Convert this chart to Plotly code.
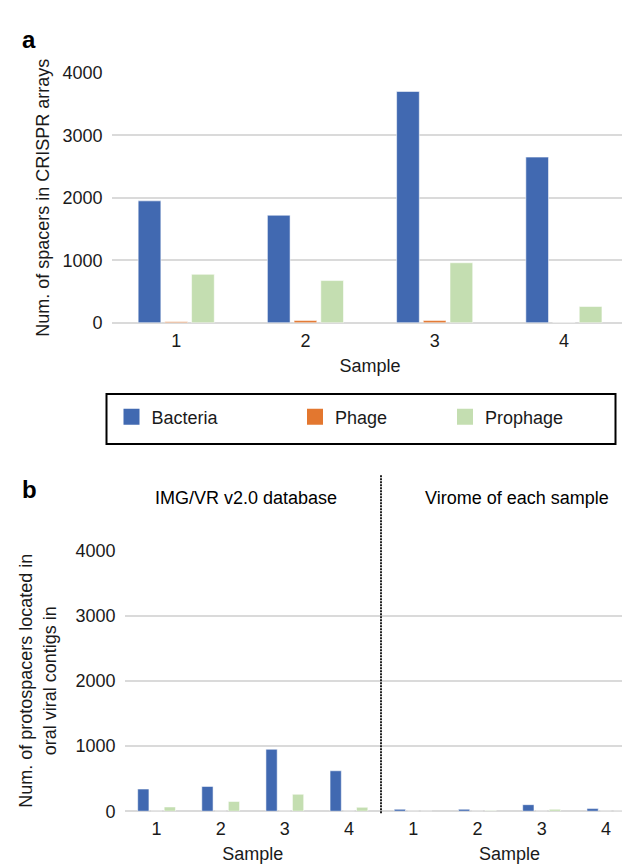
import plotly.graph_objects as go

W, H = 630, 864
def px(x): return x / W
def py(y): return 1 - y / H

samples = ["1", "2", "3", "4"]
series = ["Bacteria", "Phage", "Prophage"]
colors = {"Bacteria": "#4169B1", "Phage": "#E3772F", "Prophage": "#C4DEB1"}

# Panel a: spacers in CRISPR arrays
spacers_bacteria = [1950, 1720, 3700, 2650]
spacers_phage = [15, 35, 35, 0]
spacers_prophage = [775, 675, 960, 260]

# Panel b: protospacers in IMG/VR v2.0 database
img_bacteria = [340, 380, 950, 620]
img_phage = [0, 0, 0, 0]
img_prophage = [65, 150, 260, 60]

# Panel b: protospacers in virome of each sample
vir_bacteria = [30, 30, 100, 40]
vir_phage = [0, 0, 0, 0]
vir_prophage = [0, 10, 30, 0]

yticks = [0, 1000, 2000, 3000, 4000]

FONT = "Liberation Sans, Arial, Helvetica, sans-serif"
TXT = "#1a1a1a"
GRID = "#DADADA"

fig = go.Figure()

def add_group(vals, xa, ya):
    for name, v in zip(series, vals):
        fig.add_trace(go.Bar(
            x=samples, y=v, name=name, xaxis=xa, yaxis=ya,
            marker=dict(color=colors[name], line=dict(color="rgba(255,255,255,0.55)", width=1)),
            showlegend=False, hoverinfo="x+y+name"))

add_group([spacers_bacteria, spacers_phage, spacers_prophage], "x", "y")
add_group([img_bacteria, img_phage, img_prophage], "x2", "y2")
add_group([vir_bacteria, vir_phage, vir_prophage], "x3", "y2")

# legend entries (one legend per entry for exact placement)
legend_names = ["legend", "legend2", "legend3"]
legend_swatch_centers = [123.5, 307, 457]
for name, lg in zip(series, legend_names):
    fig.add_trace(go.Scatter(
        x=[None], y=[None], mode="markers", name=name, legend=lg,
        marker=dict(symbol="square", size=18, color=colors[name]),
        xaxis="x", yaxis="y", showlegend=True))

axis_font = dict(family=FONT, size=18, color=TXT)

def xax(domain, anchor):
    return dict(domain=domain, anchor=anchor, type="category", range=[-0.5, 3.5],
                showgrid=False, showline=False, zeroline=False, ticks="",
                ticklabelstandoff=5, tickfont=axis_font,
                title=dict(text="Sample", font=axis_font, standoff=9))

def yax(domain, anchor, title, standoff):
    return dict(domain=domain, anchor=anchor, range=[0, 4000], tickvals=yticks,
                showgrid=True, gridcolor=GRID, gridwidth=1.5,
                zeroline=True, zerolinecolor=GRID, zerolinewidth=1.5,
                showline=False, ticks="", ticklabelstandoff=8, tickfont=axis_font,
                title=dict(text=title, font=axis_font, standoff=standoff))

layout = dict(
    width=W, height=H, margin=dict(l=0, r=0, t=0, b=0),
    paper_bgcolor="white", plot_bgcolor="white",
    font=dict(family=FONT, color=TXT),
    barmode="group", bargap=0.38, bargroupgap=0.15,
    xaxis=xax([px(103.6), px(620.5)], "y"),
    yaxis=yax([py(312), py(56)], "x", "Num. of spacers in CRISPR arrays", 8),
    xaxis2=xax([px(116.5), px(373)], "y2"),
    xaxis3=xax([px(373), 1.0], "y2"),
    yaxis2=yax([py(812), py(545)], "x2",
               "Num. of protospacers located in<br>oral viral contigs in", 14),
)
for lg, cx in zip(legend_names, legend_swatch_centers):
    layout[lg] = dict(x=px(cx - 20), xanchor="left", y=py(408.5), yanchor="middle",
                      orientation="h", bgcolor="rgba(0,0,0,0)", borderwidth=0,
                      font=dict(family=FONT, size=18, color=TXT), itemsizing="trace")
fig.update_layout(**layout)

# legend frame
fig.add_shape(type="rect", xref="paper", yref="paper",
              x0=px(98.5), x1=px(607.5), y0=py(436), y1=py(385),
              line=dict(color="black", width=2), fillcolor="rgba(0,0,0,0)")
# dotted separator in panel b
fig.add_shape(type="line", xref="paper", yref="paper",
              x0=px(373), x1=px(373), y0=py(468), y1=py(815),
              line=dict(color="#222222", width=2, dash="2px,1px"))

annots = [
    dict(text="<b>a</b>", x=px(12), y=py(22), size=24, xanchor="left"),
    dict(text="<b>b</b>", x=px(12), y=py(483), size=24, xanchor="left"),
    dict(text="IMG/VR v2.0 database", x=px(237.5), y=py(491), size=18, xanchor="center"),
    dict(text="Virome of each sample", x=px(509), y=py(491), size=18, xanchor="center"),
]
for a in annots:
    fig.add_annotation(text=a["text"], x=a["x"], y=a["y"], xref="paper", yref="paper",
                       xanchor=a["xanchor"], yanchor="middle", showarrow=False,
                       font=dict(family=FONT, size=a["size"], color="black"))

fig.write_html("out.html")
